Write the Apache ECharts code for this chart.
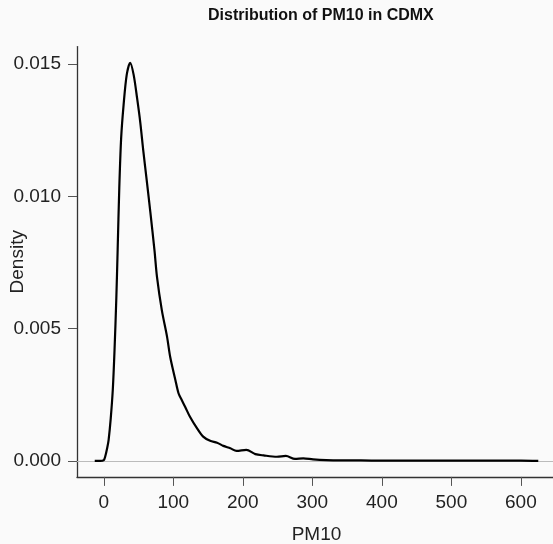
<!DOCTYPE html>
<html>
<head>
<meta charset="utf-8">
<script src="https://cdn.jsdelivr.net/npm/echarts@6/dist/echarts.min.js"></script>
<style>
html,body{margin:0;padding:0;background:#fafafa;}
#chart{width:553px;height:544px;}
</style>
</head>
<body>
<div id="chart"></div>
<script>
var pm10 = [-13, -5, 0, 2, 5, 7, 10, 13, 15.5, 18, 20, 22.3, 25, 28.5, 33, 38, 43, 48, 52.5, 57, 62, 67, 73, 76.5, 83.5, 91, 95.5, 103, 107.5, 112, 117, 124, 134, 143, 153, 163, 172, 182, 191, 205, 218, 230, 249, 262, 275, 287, 301, 320, 340, 370, 400, 450, 500, 550, 600, 625];
var density = [0, 0, 0.00003, 0.00016, 0.0005, 0.0008, 0.0016, 0.0027, 0.0042, 0.0061, 0.0080, 0.0103, 0.0122, 0.01345, 0.01459, 0.01505, 0.01459, 0.0137, 0.0128, 0.01169, 0.01056, 0.0094, 0.00795, 0.00697, 0.0057, 0.0047, 0.00394, 0.00306, 0.00256, 0.00231, 0.00205, 0.00167, 0.00124, 0.00092, 0.00076, 0.00069, 0.00057, 0.00048, 0.00038, 0.00042, 0.00026, 0.00021, 0.00016, 0.00019, 0.00008, 0.0001, 0.00006, 0.00003, 0.00002, 0.00002, 0.00001, 0.00001, 0.00001, 0.00001, 0.00001, 0];
var xTicks = [0, 100, 200, 300, 400, 500, 600];
var yTicks = [0, 0.005, 0.010, 0.015];
var titleText = "Distribution of PM10 in CDMX";
var xName = "PM10";
var yName = "Density";

var points = pm10.map(function (x, i) { return [x, density[i]]; });
var font = "Liberation Sans, Arial, Helvetica, sans-serif";

var chart = echarts.init(document.getElementById('chart'), null, {renderer: 'canvas'});
chart.setOption({
  backgroundColor: '#fafafa',
  animation: false,
  title: {
    text: titleText,
    left: 203, top: 3,
    textStyle: {fontFamily: font, fontSize: 16, fontWeight: 'bold', color: '#111'}
  },
  grid: {left: 77, top: 46.6, width: 479, height: 430.3, containLabel: false, outerBoundsMode: 'none'},
  xAxis: {
    type: 'value', min: -38.5, max: 650.5,
    name: xName, nameLocation: 'middle', nameGap: 48, nameMoveOverlap: false,
    nameTextStyle: {fontFamily: font, fontSize: 19, color: '#222'},
    splitLine: {show: false},
    axisLine: {show: true, onZero: false, lineStyle: {color: '#333', width: 1.3}},
    axisTick: {show: true, length: 9, lineStyle: {color: '#555'}, customValues: xTicks},
    axisLabel: {margin: 16, fontFamily: font, fontSize: 19, color: '#222', customValues: xTicks,
      formatter: function (v) { return String(v); }}
  },
  yAxis: {
    type: 'value', min: -0.000602, max: 0.01566,
    name: yName, nameLocation: 'middle', nameGap: 50, nameMoveOverlap: false,
    nameTextStyle: {fontFamily: font, fontSize: 19, color: '#222'},
    splitLine: {show: false},
    axisLine: {show: true, onZero: false, lineStyle: {color: '#333', width: 1.3}},
    axisTick: {show: true, length: 9, lineStyle: {color: '#555'}, customValues: yTicks},
    axisLabel: {margin: 16, fontFamily: font, fontSize: 19, color: '#222', customValues: yTicks,
      formatter: function (v) { return v.toFixed(3); }}
  },
  series: [{
    type: 'line',
    data: points,
    showSymbol: false,
    smooth: 0.3,
    lineStyle: {color: '#000', width: 2.2},
    markLine: {
      silent: true, symbol: ['none', 'none'], label: {show: false},
      lineStyle: {color: '#bbbbbb', type: 'solid', width: 1},
      data: [{yAxis: 0}],
      z: 1
    },
    z: 3
  }]
});
</script>
</body>
</html>
